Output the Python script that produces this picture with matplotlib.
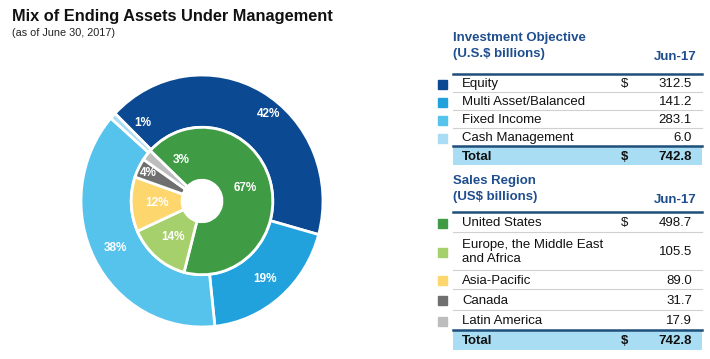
import numpy as np
import matplotlib
matplotlib.use("Agg")
import matplotlib.pyplot as plt
from matplotlib.patches import Rectangle

plt.rcParams['font.family'] = ['Liberation Sans', 'DejaVu Sans']

# --- data ---
objective_names = ["Equity", "Multi Asset/Balanced", "Fixed Income", "Cash Management"]
objective_values = [312.5, 141.2, 283.1, 6.0]
objective_pcts = ["42%", "19%", "38%", "1%"]
objective_colors = ["#0B4A92", "#22A2DD", "#56C3EC", "#A9DDF3"]

region_names = ["United States", "Europe, the Middle East\nand Africa", "Asia-Pacific", "Canada", "Latin America"]
region_values = [498.7, 105.5, 89.0, 31.7, 17.9]
region_pcts = ["67%", "14%", "12%", "4%", "3%"]
region_colors = ["#3F9C44", "#A6D06B", "#FDD66E", "#6F6F6F", "#BDBDBD"]

total_label = "742.8"
period = "Jun-17"

W, H = 710, 359
fig = plt.figure(figsize=(W / 100, H / 100), dpi=100)

# background axes in pixel coordinates for text / table
bg = fig.add_axes([0, 0, 1, 1])
bg.set_xlim(0, W)
bg.set_ylim(H, 0)
bg.axis('off')

bg.text(12, 16, "Mix of Ending Assets Under Management", fontsize=11.8, fontweight='bold',
        color='#111111', va='center', ha='left')
bg.text(12, 33, "(as of June 30, 2017)", fontsize=7.8, color='#222222', va='center', ha='left')

# --- donut (source image is slightly taller than wide) ---
cx, cy, rx, ry = 202, 201, 121, 126
pax = fig.add_axes([(cx - rx) / W, (H - cy - ry) / H, 2 * rx / W, 2 * ry / H])
start = 136
wedges, _ = pax.pie(objective_values, colors=objective_colors, startangle=start, counterclock=False,
                    radius=1.0, wedgeprops=dict(width=0.415, edgecolor='white', linewidth=2))
inner, _ = pax.pie(region_values, colors=region_colors, startangle=start + 1, counterclock=False,
                   radius=0.585, wedgeprops=dict(width=0.42, edgecolor='white', linewidth=2))
pax.set_xlim(-1.0, 1.0)
pax.set_ylim(-1.0, 1.0)
pax.set_aspect('auto')
pax.axis('off')

# label nudges (angle offset in degrees, radius) where the original is off-centre
outer_nudge = {0: (-9, 0.88), 3: (-9, 0.79)}
inner_nudge = {4: (-23, 0.37), 3: (0, 0.5)}


def put_labels(ws, labels, r, nudge, size):
    for i, (w, lab) in enumerate(zip(ws, labels)):
        ang = (w.theta1 + w.theta2) / 2
        rr = r
        if i in nudge:
            ang += nudge[i][0]
            rr = nudge[i][1]
        x = rr * np.cos(np.radians(ang))
        y = rr * np.sin(np.radians(ang))
        pax.text(x, y, lab, ha='center', va='center', color='white', fontsize=size, fontweight='bold')


put_labels(wedges, objective_pcts, 0.81, outer_nudge, 8.5)
put_labels(inner, region_pcts, 0.37, inner_nudge, 8.5)

# --- tables ---
head_color = '#1F4E8F'
rule_dark = '#1F4E79'
rule_light = '#D0D0D0'
band = '#A9DDF3'
x0, x1 = 453, 702
x_txt, x_dol, x_val = 462, 621, 692
sw_x, sw = 438, 9
fs = 9.5


def draw_table(title1, title2, y_title, y_rule, names, values, colors, row_h, total_y):
    bg.text(x0, y_title, title1, fontsize=fs, fontweight='bold', color=head_color, va='center')
    bg.text(x0, y_title + 16, title2, fontsize=fs, fontweight='bold', color=head_color, va='center')
    bg.text(x_val + 5, y_title + 19, period, fontsize=fs, fontweight='bold', color=head_color,
            va='center', ha='right')
    bg.plot([x0, x1], [y_rule, y_rule], color=rule_dark, lw=1.8)
    y = y_rule
    for i, (n, v, c) in enumerate(zip(names, values, colors)):
        h = row_h[i]
        ym = y + h / 2 + 1
        bg.add_patch(Rectangle((sw_x, ym - sw / 2), sw, sw, color=c))
        bg.text(x_txt, ym, n, fontsize=fs, color='#111111', va='center', linespacing=1.3)
        bg.text(x_val, ym, f"{v:.1f}", fontsize=fs, color='#111111', va='center', ha='right')
        if i == 0:
            bg.text(x_dol, ym, "$", fontsize=fs, color='#111111', va='center')
        y += h
        if i < len(names) - 1:
            bg.plot([x0, x1], [y, y], color=rule_light, lw=0.8)
    bg.add_patch(Rectangle((x0, y), x1 - x0, total_y, color=band, lw=0))
    bg.plot([x0, x1], [y, y], color=rule_dark, lw=1.8)
    ym = y + total_y / 2 + 1
    bg.text(x_txt, ym, "Total", fontsize=fs, fontweight='bold', color='#111111', va='center')
    bg.text(x_dol, ym, "$", fontsize=fs, fontweight='bold', color='#111111', va='center')
    bg.text(x_val, ym, total_label, fontsize=fs, fontweight='bold', color='#111111', va='center', ha='right')


draw_table("Investment Objective", "(U.S.$ billions)", 38, 74,
           objective_names, objective_values, objective_colors, [18, 18, 18, 18], 19)
draw_table("Sales Region", "(US$ billions)", 181, 212,
           region_names, region_values, region_colors, [20, 38, 19, 21, 20], 20)

fig.savefig("out.png", dpi=100)
